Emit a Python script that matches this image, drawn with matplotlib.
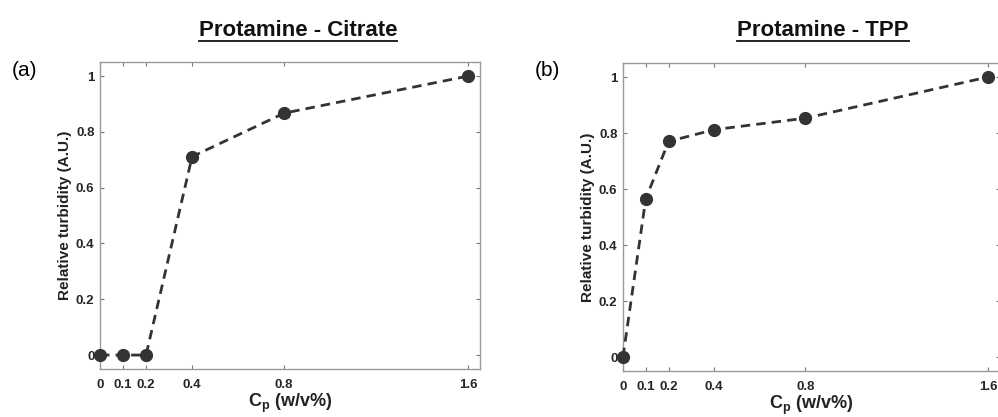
import matplotlib
matplotlib.use('Agg')
import matplotlib.pyplot as plt
from matplotlib.lines import Line2D

plt.rcParams['font.family'] = ['Liberation Sans', 'DejaVu Sans']
plt.rcParams['mathtext.fontset'] = 'custom'
plt.rcParams['mathtext.bf'] = 'Liberation Sans:bold'
plt.rcParams['mathtext.rm'] = 'Liberation Sans'

cp = [0, 0.1, 0.2, 0.4, 0.8, 1.6]
citrate = [0, 0, 0, 0.711, 0.867, 1.0]
tpp = [0, 0.565, 0.77, 0.812, 0.853, 1.0]
xticks = [0, 0.1, 0.2, 0.4, 0.8, 1.6]
xticklabels = ['0', '0.1', '0.2', '0.4', '0.8', '1.6']
yticks = [0, 0.2, 0.4, 0.6, 0.8, 1]
yticklabels = ['0', '0.2', '0.4', '0.6', '0.8', '1']

fig = plt.figure(figsize=(9.98, 4.17), dpi=100)
ax1 = fig.add_axes([0.1002, 0.1151, 0.381, 0.736])
ax2 = fig.add_axes([0.6242, 0.1103, 0.3777, 0.7386])

dark = '#333333'
for ax, y in [(ax1, citrate), (ax2, tpp)]:
    ax.plot(cp, y, linestyle=(0, (3.4, 2.2)), color=dark, linewidth=2.0,
            marker='o', markersize=8.5, markerfacecolor=dark, markeredgecolor=dark,
            clip_on=False, zorder=3)
    ax.set_xlim(0, 1.652)
    ax.set_ylim(-0.05, 1.05)
    ax.set_xticks(xticks)
    ax.set_xticklabels(xticklabels, fontsize=9.5, fontweight='bold', color='#262626')
    ax.set_yticks(yticks)
    ax.set_yticklabels(yticklabels, fontsize=9.5, fontweight='bold', color='#262626')
    ax.tick_params(direction='in', length=3, width=0.8, color='#777777',
                   top=True, right=True)
    ax.tick_params(axis='x', pad=7)
    ax.tick_params(axis='y', pad=4)
    for s in ax.spines.values():
        s.set_color('#999999')
        s.set_linewidth(1.0)
    ax.set_ylabel('Relative turbidity (A.U.)', fontsize=11, fontweight='bold',
                  color='#222222', labelpad=3)
    ax.set_xlabel(r'$\mathbf{C_p}$ (w/v%)', fontsize=13, fontweight='bold',
                  color='#222222', labelpad=1)

fig.text(0.025, 0.832, '(a)', fontsize=15, ha='center', va='center')
fig.text(0.549, 0.832, '(b)', fontsize=15, ha='center', va='center')

titles = []
titles.append(fig.text(0.2986, 0.928, 'Protamine - Citrate', fontsize=16,
                       fontweight='bold', ha='center', va='center', color='#111111'))
titles.append(fig.text(0.8247, 0.928, 'Protamine - TPP', fontsize=16,
                       fontweight='bold', ha='center', va='center', color='#111111'))

# underline the titles
fig.canvas.draw()
r = fig.canvas.get_renderer()
for t in titles:
    bb = t.get_window_extent(renderer=r).transformed(fig.transFigure.inverted())
    fig.add_artist(Line2D([bb.x0, bb.x1], [bb.y0 - 0.002, bb.y0 - 0.002],
                          transform=fig.transFigure, color='#111111', linewidth=1.3))

fig.savefig('out.png', dpi=100)
